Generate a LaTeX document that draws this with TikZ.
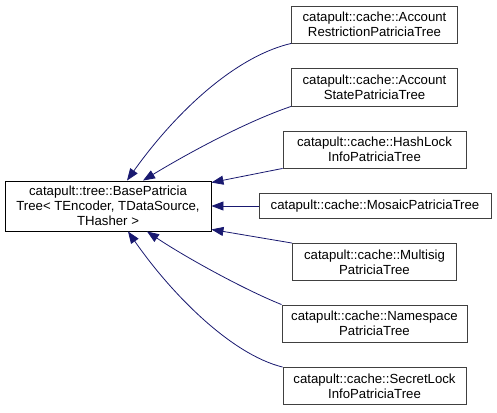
\documentclass[tikz,border=0pt]{standalone}
\usepackage{fontspec}
\setmainfont{Liberation Sans}
\usetikzlibrary{positioning, calc, arrows.meta}

\definecolor{edgeblue}{HTML}{191970}
\definecolor{boxgray}{HTML}{404040}

\tikzset{
  classbox/.style={draw=boxgray, fill=white, line width=0.9pt, align=center,
    inner sep=1pt, font=\fontsize{13.2}{15}\selectfont},
  basebox/.style={classbox, draw=black},
  inherit/.style={edgeblue, line width=0.8pt, -{Triangle[length=12pt,width=9pt]}}
}

\begin{document}
\begin{tikzpicture}[x=1pt, y=-1pt]
    \useasboundingbox (0,0) rectangle (497,412);

    % Base class
    \node[basebox, minimum width=206pt, minimum height=50pt] (base) at (108,206)
        {catapult::tree::BasePatricia\\Tree\textless{} TEncoder, TDataSource,\\THasher \textgreater};

    % Derived classes
    \node[classbox, minimum width=166pt, minimum height=37pt] (restr) at (374.5,24.5)
        {catapult::cache::Account\\RestrictionPatriciaTree};
    \node[classbox, minimum width=166pt, minimum height=38pt] (state) at (374.5,87)
        {catapult::cache::Account\\StatePatriciaTree};
    \node[classbox, minimum width=183pt, minimum height=37pt] (hashlock) at (374.5,149.5)
        {catapult::cache::HashLock\\InfoPatriciaTree};
    \node[classbox, minimum width=232pt, minimum height=25pt] (mosaic) at (375,206)
        {catapult::cache::MosaicPatriciaTree};
    \node[classbox, minimum width=164pt, minimum height=37pt] (multisig) at (374.5,262)
        {catapult::cache::Multisig\\PatriciaTree};
    \node[classbox, minimum width=185pt, minimum height=37pt] (namesp) at (374.5,323.5)
        {catapult::cache::Namespace\\PatriciaTree};
    \node[classbox, minimum width=183pt, minimum height=37pt] (secret) at (374.5,386)
        {catapult::cache::SecretLock\\InfoPatriciaTree};

    % Inheritance arrows
    \draw[inherit] (restr.south west) .. controls (230,58) and (170,120) .. ([xshift=19pt]base.north);
    \draw[inherit] (state.south west) .. controls (245,122) and (185,155) .. ([xshift=35pt]base.north);
    \draw[inherit] (hashlock.south west) -- ([yshift=-2pt]base.north east);
    \draw[inherit] (mosaic.west) -- (base.east);
    \draw[inherit] (multisig.north west) -- ([yshift=2pt]base.south east);
    \draw[inherit] (namesp.north west) .. controls (245,290) and (185,257) .. ([xshift=39pt]base.south);
    \draw[inherit] (secret.north west) .. controls (230,354) and (170,292) .. ([xshift=20pt]base.south);
\end{tikzpicture}
\end{document}
